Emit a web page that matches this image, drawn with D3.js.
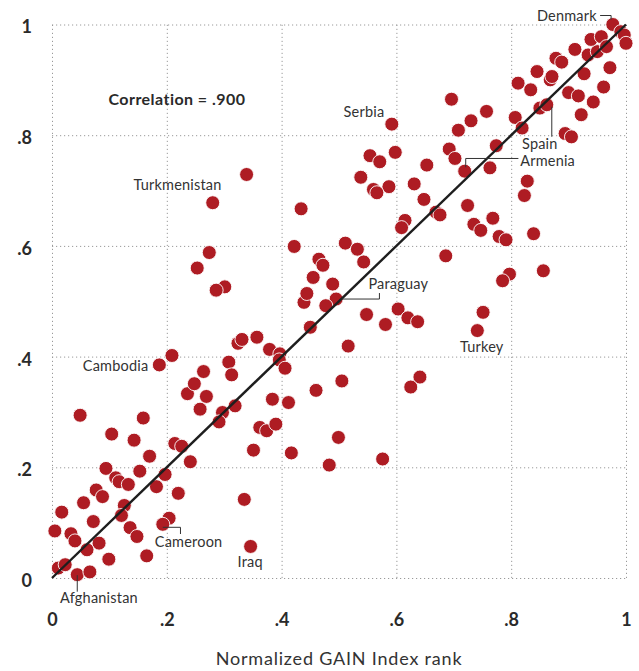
<!DOCTYPE html>
<html>
<head>
<meta charset="utf-8">
<script src="https://cdn.jsdelivr.net/npm/d3@7"></script>
<style>
  html, body { margin: 0; padding: 0; background: #fff; }
  svg { display: block; }
</style>
</head>
<body>
<svg id="chart" width="639" height="671"></svg>
<script>
// ---- Data ----
const gainRank = [
  0.049,0.159,0.104,0.143,0.214,0.226,0.170,0.241,0.094,0.153,
  0.111,0.117,0.133,0.197,0.182,0.220,0.077,0.088,0.055,0.126,
  0.017,0.121,0.072,0.204,0.193,0.136,0.148,0.005,0.033,0.040,
  0.082,0.061,0.165,0.099,0.011,0.023,0.044,0.066,0.335,0.346,
  0.236,0.269,0.258,0.297,0.319,0.291,0.248,0.264,0.187,0.209,
  0.308,0.313,0.324,0.331,0.357,0.379,0.397,0.396,0.406,0.351,
  0.362,0.374,0.390,0.384,0.412,0.417,0.460,0.505,0.499,0.483,
  0.576,0.516,0.450,0.439,0.444,0.455,0.489,0.465,0.472,0.422,
  0.434,0.511,0.532,0.543,0.495,0.477,0.548,0.581,0.603,0.620,
  0.637,0.641,0.625,0.741,0.751,0.797,0.785,0.856,0.686,0.779,
  0.791,0.839,0.735,0.747,0.768,0.724,0.669,0.676,0.615,0.609,
  0.648,0.631,0.587,0.560,0.566,0.538,0.554,0.571,0.598,0.592,
  0.653,0.692,0.702,0.719,0.763,0.774,0.708,0.730,0.757,0.696,
  0.807,0.819,0.828,0.823,0.812,0.834,0.845,0.850,0.862,0.868,
  0.871,0.878,0.888,0.894,0.905,0.900,0.917,0.922,0.943,0.927,
  0.911,0.934,0.950,0.939,0.957,0.966,0.961,0.972,0.977,0.991,
  0.997,1.000,0.274,0.253,0.301,0.286,0.280,0.339
];
const otherRank = [
  0.294,0.289,0.260,0.249,0.243,0.238,0.220,0.210,0.198,0.193,
  0.181,0.174,0.169,0.187,0.165,0.153,0.159,0.147,0.136,0.131,
  0.119,0.113,0.102,0.108,0.097,0.091,0.075,0.085,0.080,0.067,
  0.063,0.051,0.040,0.034,0.018,0.024,0.006,0.011,0.142,0.057,
  0.333,0.328,0.305,0.299,0.311,0.282,0.351,0.373,0.385,0.402,
  0.390,0.367,0.424,0.431,0.435,0.413,0.405,0.394,0.379,0.231,
  0.272,0.266,0.278,0.323,0.317,0.226,0.339,0.356,0.254,0.204,
  0.215,0.419,0.453,0.498,0.514,0.543,0.531,0.576,0.565,0.599,
  0.667,0.605,0.594,0.571,0.504,0.492,0.476,0.458,0.486,0.470,
  0.463,0.363,0.345,0.447,0.480,0.549,0.537,0.555,0.582,0.617,
  0.611,0.622,0.639,0.628,0.650,0.673,0.661,0.656,0.646,0.633,
  0.684,0.712,0.707,0.702,0.696,0.724,0.763,0.752,0.769,0.820,
  0.746,0.775,0.758,0.735,0.741,0.781,0.809,0.826,0.843,0.865,
  0.832,0.813,0.717,0.691,0.894,0.882,0.915,0.849,0.855,0.900,
  0.906,0.939,0.932,0.803,0.797,0.877,0.871,0.837,0.860,0.911,
  0.955,0.945,0.951,0.973,0.978,0.960,0.887,0.922,1.000,0.987,
  0.981,0.966,0.588,0.560,0.526,0.520,0.678,0.729
];
const labelNames = ["Denmark","Serbia","Turkmenistan","Spain","Armenia","Paraguay","Turkey","Cambodia","Cameroon","Iraq","Afghanistan"];
const labelGain  = [0.977,0.592,0.339,0.862,0.719,0.495,0.741,0.187,0.193,0.346,0.044];
const labelOther = [1.000,0.820,0.729,0.855,0.735,0.504,0.447,0.385,0.097,0.057,0.006];
const tickValues = [0, 0.2, 0.4, 0.6, 0.8, 1];
const tickLabels = ["0", ".2", ".4", ".6", ".8", "1"];
const correlationText = "Correlation = .900";
const fitLine = [[0, 0], [1, 1]];
const xTitle = "Normalized GAIN Index rank";

// ---- Layout ----
const svg = d3.select("#chart");
const x = d3.scaleLinear().domain([0, 1]).range([52, 626]);
const y = d3.scaleLinear().domain([0, 1]).range([578, 24.5]);
const font = "Lato, 'Open Sans', sans-serif";
const ink = "#2a2a2a";

// Grid + tick labels via axes
const gx = svg.append("g").attr("transform", `translate(0,${y(0)})`)
  .call(d3.axisBottom(x).tickValues(tickValues)
    .tickFormat((d, i) => tickLabels[i])
    .tickSize(-(y(0) - y(1))).tickPadding(35));
const gy = svg.append("g").attr("transform", `translate(${x(0)},0)`)
  .call(d3.axisLeft(y).tickValues(tickValues)
    .tickFormat((d, i) => tickLabels[i])
    .tickSize(-(x(1) - x(0))).tickPadding(20));
[gx, gy].forEach(g => {
  g.select(".domain").remove();
  g.selectAll(".tick line").attr("stroke", "#9a9a9a").attr("stroke-width", 1)
    .attr("stroke-dasharray", "1.2,2.8");
  g.selectAll(".tick text").attr("fill", ink).attr("font-family", font)
    .attr("font-size", 18).attr("font-weight", 700);
});
gy.selectAll(".tick text").attr("dy", "0.47em");

// Points
svg.append("g").selectAll("circle")
  .data(gainRank.map((g, i) => [g, otherRank[i]]))
  .join("circle")
  .attr("cx", d => x(d[0]))
  .attr("cy", d => y(d[1]))
  .attr("r", 7)
  .attr("fill", "#ae1c23")
  .attr("stroke", "#fff")
  .attr("stroke-width", 0.9);

// Fit line
svg.append("path")
  .attr("d", d3.line().x(d => x(d[0])).y(d => y(d[1]))(fitLine))
  .attr("stroke", "#1e1e1e").attr("stroke-width", 2.4).attr("fill", "none");

// Annotations: layout offsets (pixels) relative to each labelled point
const annoLayout = {
  "Denmark":      {dx: -16,  dy: -4,   anchor: "end",   path: [[-12.7,-9],[-1.7,-9],[-1.7,-5]]},
  "Serbia":       {dx: -7.5, dy: -7,   anchor: "end"},
  "Turkmenistan": {dx: -25,  dy: 15.5, anchor: "end"},
  "Spain":        {dx: -7,   dy: 44,   anchor: "middle", path: [[5,2],[5,32]]},
  "Armenia":      {dx: 55.5, dy: -5,   anchor: "start", path: [[1,-4],[1,-12.7],[53.7,-12.7]]},
  "Paraguay":     {dx: 32.3, dy: -10,  anchor: "start", path: [[5.7,0],[43.3,0],[43.3,-6]]},
  "Turkey":       {dx: -17.3,dy: 21.6, anchor: "start"},
  "Cambodia":     {dx: -11,  dy: 6,    anchor: "end"},
  "Cameroon":     {dx: -8,   dy: 23,   anchor: "start", path: [[0,3],[17.7,3],[17.7,9.7]]},
  "Iraq":         {dx: -13,  dy: 20.6, anchor: "start"},
  "Afghanistan":  {dx: -17.3,dy: 28.7, anchor: "start", path: [[0,0.5],[0,17]]}
};
const anno = svg.append("g");
labelNames.forEach((name, i) => {
  const px = x(labelGain[i]), py = y(labelOther[i]);
  const L = annoLayout[name];
  if (L.path) {
    anno.append("path")
      .attr("d", d3.line()(L.path.map(p => [px + p[0], py + p[1]])))
      .attr("stroke", "#333").attr("stroke-width", 1).attr("fill", "none");
  }
  anno.append("text")
    .attr("x", px + L.dx).attr("y", py + L.dy)
    .attr("text-anchor", L.anchor)
    .attr("font-family", font).attr("font-size", 14.5)
    .attr("letter-spacing", 0.2)
    .attr("fill", "#333").text(name);
});

// Correlation note
svg.append("text").attr("x", 108.5).attr("y", 105)
  .attr("font-family", font).attr("font-size", 16).attr("font-weight", 700)
  .attr("letter-spacing", 0.45)
  .attr("fill", ink).text(correlationText);

// Axis title
svg.append("text").attr("x", (x(0) + x(1)) / 2).attr("y", 665)
  .attr("text-anchor", "middle")
  .attr("font-family", font).attr("font-size", 18)
  .attr("letter-spacing", 0.8)
  .attr("fill", "#333").text(xTitle);
</script>
</body>
</html>
